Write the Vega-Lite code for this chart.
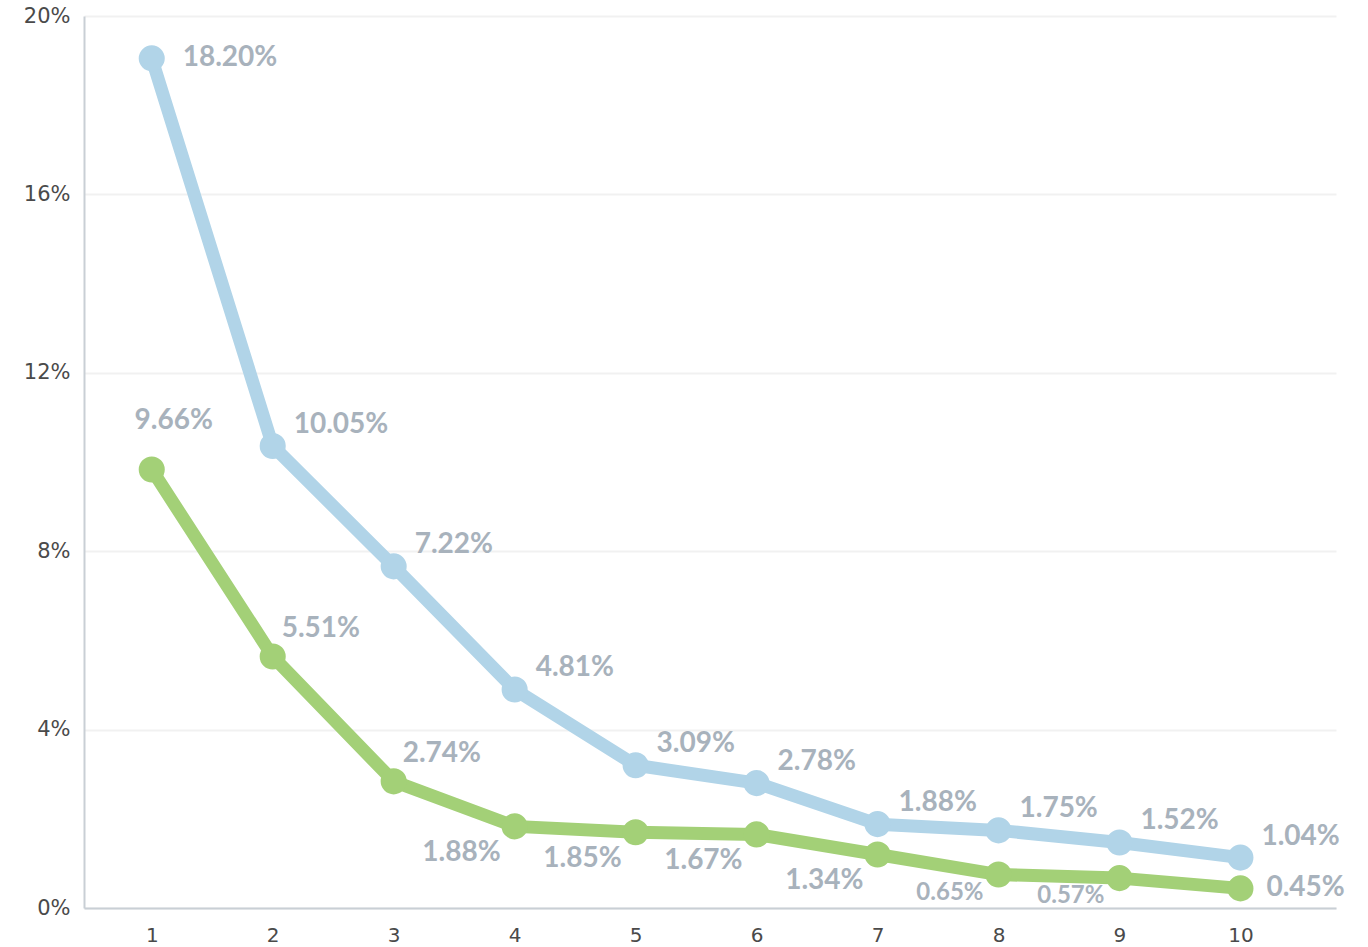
{
  "$schema": "https://vega.github.io/schema/vega-lite/v6.json",
  "width": 1252,
  "height": 892,
  "autosize": {"type": "none"},
  "padding": {"left": 84, "top": 16, "right": 32, "bottom": 39},
  "background": "white",
  "config": {
    "view": {"stroke": null},
    "font": "Lato"
  },
  "data": {
    "values": [
      {"series": "blue", "rank": 1, "value": 19.05, "label": "18.20%"},
      {"series": "blue", "rank": 2, "value": 10.36, "label": "10.05%"},
      {"series": "blue", "rank": 3, "value": 7.66, "label": "7.22%"},
      {"series": "blue", "rank": 4, "value": 4.9, "label": "4.81%"},
      {"series": "blue", "rank": 5, "value": 3.2, "label": "3.09%"},
      {"series": "blue", "rank": 6, "value": 2.8, "label": "2.78%"},
      {"series": "blue", "rank": 7, "value": 1.88, "label": "1.88%"},
      {"series": "blue", "rank": 8, "value": 1.74, "label": "1.75%"},
      {"series": "blue", "rank": 9, "value": 1.47, "label": "1.52%"},
      {"series": "blue", "rank": 10, "value": 1.13, "label": "1.04%"},
      {"series": "green", "rank": 1, "value": 9.83, "label": "9.66%"},
      {"series": "green", "rank": 2, "value": 5.64, "label": "5.51%"},
      {"series": "green", "rank": 3, "value": 2.84, "label": "2.74%"},
      {"series": "green", "rank": 4, "value": 1.83, "label": "1.88%"},
      {"series": "green", "rank": 5, "value": 1.7, "label": "1.85%"},
      {"series": "green", "rank": 6, "value": 1.65, "label": "1.67%"},
      {"series": "green", "rank": 7, "value": 1.2, "label": "1.34%"},
      {"series": "green", "rank": 8, "value": 0.75, "label": "0.65%"},
      {"series": "green", "rank": 9, "value": 0.67, "label": "0.57%"},
      {"series": "green", "rank": 10, "value": 0.44, "label": "0.45%"}
    ]
  },
  "encoding": {
    "x": {
      "field": "rank", "type": "quantitative",
      "scale": {"domain": [0.44, 10.79], "nice": false, "zero": false},
      "axis": {
        "values": [1, 2, 3, 4, 5, 6, 7, 8, 9, 10],
        "title": null, "grid": false, "ticks": false,
        "domainColor": "#c9cfd5", "domainWidth": 2,
        "labelFont": "DejaVu Sans", "labelFontSize": 20, "labelColor": "#4a4a4a", "labelPadding": 17,
        "labelFlush": false
      }
    },
    "y": {
      "field": "value", "type": "quantitative",
      "scale": {"domain": [0, 20], "nice": false},
      "axis": {
        "values": [0, 4, 8, 12, 16, 20],
        "labelExpr": "datum.value + '%'",
        "title": null, "ticks": false,
        "grid": true, "gridColor": "#f1f1f1", "gridWidth": 2,
        "domainColor": "#c9cfd5", "domainWidth": 2,
        "labelFont": "DejaVu Sans", "labelFontSize": 21, "labelColor": "#4a4a4a", "labelPadding": 14
      }
    },
    "color": {
      "field": "series", "type": "nominal",
      "scale": {"domain": ["blue", "green"], "range": ["#b1d4e8", "#a3d077"]},
      "legend": null
    }
  },
  "layer": [
    {"mark": {"type": "line", "strokeWidth": 13, "strokeJoin": "round"}},
    {"mark": {"type": "point", "filled": true, "opacity": 1, "size": 680}},
    {
      "transform": [{"filter": "datum.series == 'blue' && datum.rank == 1"}],
      "mark": {"type": "text", "align": "left", "baseline": "middle", "dx": 31, "dy": 0, "fontSize": 28, "fontWeight": "bold"},
      "encoding": {"text": {"field": "label"}, "color": {"value": "#a8b2bc"}}
    },
    {
      "transform": [{"filter": "datum.series == 'blue' && datum.rank > 1"}],
      "mark": {"type": "text", "align": "left", "baseline": "middle", "dx": 21, "dy": -21, "fontSize": 28, "fontWeight": "bold"},
      "encoding": {"text": {"field": "label"}, "color": {"value": "#a8b2bc"}}
    },
    {
      "transform": [{"filter": "datum.series == 'green' && datum.rank == 1"}],
      "mark": {"type": "text", "align": "center", "baseline": "middle", "dx": 22, "dy": -49, "fontSize": 28, "fontWeight": "bold"},
      "encoding": {"text": {"field": "label"}, "color": {"value": "#a8b2bc"}}
    },
    {
      "transform": [{"filter": "datum.series == 'green' && (datum.rank == 2 || datum.rank == 3)"}],
      "mark": {"type": "text", "align": "left", "baseline": "middle", "dx": 9, "dy": -27, "fontSize": 28, "fontWeight": "bold"},
      "encoding": {"text": {"field": "label"}, "color": {"value": "#a8b2bc"}}
    },
    {
      "transform": [{"filter": "datum.series == 'green' && datum.rank >= 4 && datum.rank <= 7"}],
      "mark": {"type": "text", "align": "right", "baseline": "middle", "dx": -14, "dy": 27, "fontSize": 28, "fontWeight": "bold"},
      "encoding": {"text": {"field": "label"}, "color": {"value": "#a8b2bc"}}
    },
    {
      "transform": [{"filter": "datum.series == 'green' && (datum.rank == 8 || datum.rank == 9)"}],
      "mark": {"type": "text", "align": "right", "baseline": "middle", "dx": -15, "dy": 18, "fontSize": 24, "fontWeight": "bold"},
      "encoding": {"text": {"field": "label"}, "color": {"value": "#a8b2bc"}}
    },
    {
      "transform": [{"filter": "datum.series == 'green' && datum.rank == 10"}],
      "mark": {"type": "text", "align": "left", "baseline": "middle", "dx": 26, "dy": 0, "fontSize": 28, "fontWeight": "bold"},
      "encoding": {"text": {"field": "label"}, "color": {"value": "#a8b2bc"}}
    }
  ]
}
